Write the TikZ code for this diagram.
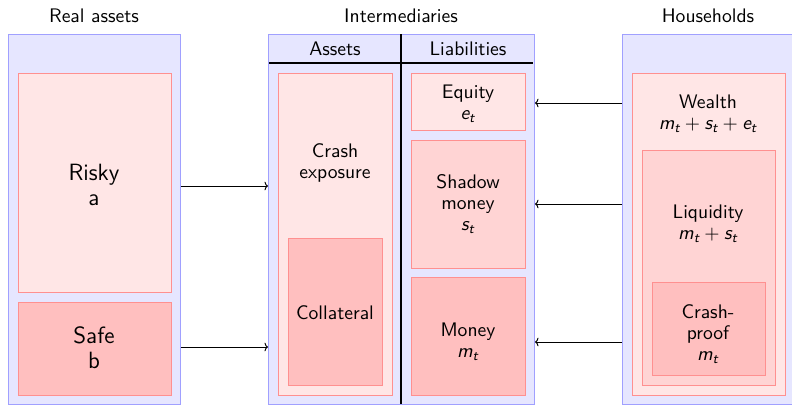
\documentclass[tikz,border=0pt]{standalone}
\usepackage{amsmath}
\renewcommand{\familydefault}{\sfdefault}
\usetikzlibrary{arrows.meta,positioning,calc}
\definecolor{sectFill}{HTML}{E6E6FF}
\definecolor{sectLine}{HTML}{A0A0FF}
\definecolor{pinkA}{HTML}{FFE6E6}
\definecolor{pinkB}{HTML}{FFD4D4}
\definecolor{pinkC}{HTML}{FFBFBF}
\definecolor{pinkLine}{HTML}{FF9090}
\newcommand{\mv}[1]{\textit{#1}}
\tikzset{
  >={To[length=1.8pt,width=4.4pt]},
  sz/.style 2 args={minimum width=#1*0.51pt,minimum height=#2*0.51pt,anchor=north west,inner sep=0pt},
  sect/.style={draw=sectLine,fill=sectFill,line width=0.5pt},
  itemA/.style={draw=pinkLine,fill=pinkA,line width=0.5pt},
  itemB/.style={draw=pinkLine,fill=pinkB,line width=0.5pt},
  itemC/.style={draw=pinkLine,fill=pinkC,line width=0.5pt},
  head/.style={font=\fontsize{10}{10.6}\selectfont,align=center},
  txt/.style={font=\fontsize{10}{10.6}\selectfont,align=center},
  bigtxt/.style={font=\fontsize{12}{12.6}\selectfont,align=center},
  flow/.style={->,line width=0.5pt},
}

\begin{document}
\begin{tikzpicture}[x=0.51pt,y=-0.51pt]
\useasboundingbox (0,0) rectangle (792,404);

\node[head] (tReal) at (94,16) {Real assets};
\node[head] (tInter) at (401,16) {Intermediaries};
\node[head] (tHouse) at (708,16) {Households};

% ================= REAL ASSETS =================
\node[sect,sz={172}{370}] (real) at (8,34) {};
\node[itemA,sz={153}{219}] (risky) at (18,73) {};
\node[itemC,sz={153}{93}] (safe) at (18,302) {};
\node[bigtxt] (riskyT) at (94,185) {Risky\\a};
\node[bigtxt] (safeT) at (94,348) {Safe\\b};

% ================= INTERMEDIARIES =================
\node[sect,sz={266}{370}] (inter) at (268,34) {};
\coordinate (hdrL) at (269,63); \coordinate (hdrR) at (533,63);
\coordinate (midT) at (401,34); \coordinate (midB) at (401,404);
\draw[line width=0.55pt] (hdrL) -- (hdrR);
\draw[line width=0.55pt] (midT) -- (midB);
\node[txt] (assetsT) at (335,49) {Assets};
\node[txt] (liabT) at (468,49) {Liabilities};
\node[itemA,sz={114}{322}] (crash) at (278,73) {};
\node[itemC,sz={94}{147}] (collat) at (288,238) {};
\node[txt] (crashT) at (335,163) {Crash\\exposure};
\node[txt] (collatT) at (335,313) {Collateral};
\node[itemA,sz={114}{57}] (equity) at (411,73) {};
\node[itemB,sz={114}{128}] (shadow) at (411,140) {};
\node[itemC,sz={114}{118}] (money) at (411,277) {};
\node[txt] (equityT) at (468,104) {Equity\\$\mv{e}_{\mv{t}}$};
\node[txt] (shadowT) at (468,204) {Shadow\\money\\$\mv{s}_{\mv{t}}$};
\node[txt] (moneyT) at (468,342) {Money\\$\mv{m}_{\mv{t}}$};

% ================= HOUSEHOLDS =================
\node[sect,sz={172}{370}] (house) at (622,34) {};
\node[itemA,sz={153}{322}] (wealth) at (632,73) {};
\node[itemB,sz={133}{235}] (liq) at (642,150) {};
\node[itemC,sz={113}{93}] (proof) at (652,282) {};
\node[txt] (wealthT) at (708,114) {Wealth\\$\mv{m}_{\mv{t}}+\mv{s}_{\mv{t}}+\mv{e}_{\mv{t}}$};
\node[txt] (liqT) at (708,224) {Liquidity\\$\mv{m}_{\mv{t}}+\mv{s}_{\mv{t}}$};
\node[txt] (proofT) at (708,334) {Crash-\\proof\\$\mv{m}_{\mv{t}}$};

% ================= FLOWS =================
\coordinate (fRisky) at (0,186); \coordinate (fSafe) at (0,347);
\coordinate (fEq) at (0,103); \coordinate (fSh) at (0,204); \coordinate (fMo) at (0,342);
\draw[flow] (real.east |- fRisky) -- (inter.west |- fRisky);
\draw[flow] (real.east |- fSafe) -- (inter.west |- fSafe);
\draw[flow] (house.west |- fEq) -- (inter.east |- fEq);
\draw[flow] (house.west |- fSh) -- (inter.east |- fSh);
\draw[flow] (house.west |- fMo) -- (inter.east |- fMo);

\end{tikzpicture}
\end{document}
